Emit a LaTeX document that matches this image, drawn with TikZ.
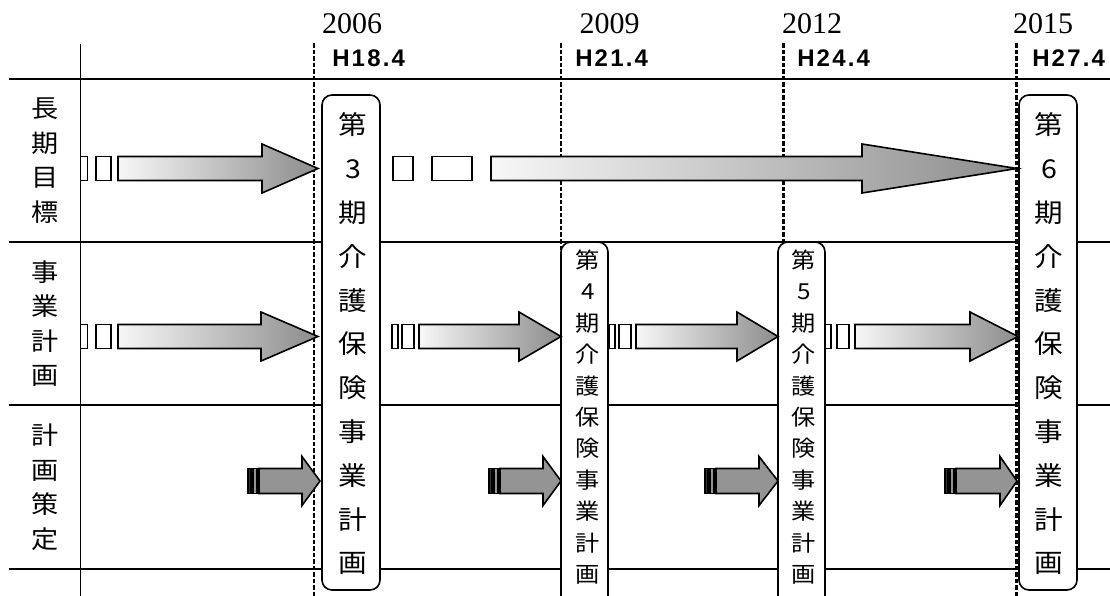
\documentclass[tikz,border=0pt]{standalone}
\usepackage{fontspec}
\newfontfamily\jpfont[FakeStretch=1.1]{Noto Sans CJK JP}
\newfontfamily\hfont[LetterSpace=9]{Liberation Sans}
\newfontfamily\yfont{Liberation Serif}
\tikzstyle{grid}=[draw=black, line width=1.4pt]
\tikzstyle{yearline}=[draw=black, line width=2.1pt, dash pattern=on 3.4pt off 1.5pt]
\tikzstyle{planbox}=[draw=black, fill=white, line width=1.2pt, rounded corners=7.5pt]
\tikzstyle{bigarrow}=[draw=black, line width=1.2pt, left color=black!3, right color=black!45]
\tikzstyle{tailbox}=[draw=black, line width=1.2pt, fill=white]
\tikzstyle{smallarrow}=[draw=black, line width=1.2pt, fill=black!42]
\tikzstyle{stripe}=[draw=black, line width=1.2pt, fill=black!80]
\tikzstyle{yearlabel}=[font=\yfont\fontsize{22.5}{27}\selectfont]
\tikzstyle{hlabel}=[anchor=west, font=\hfont\bfseries\fontsize{18}{21}\selectfont]
\tikzstyle{rowlabel}=[align=center, font=\jpfont\fontsize{18.5}{25.9}\selectfont]
\tikzstyle{bigtext}=[align=center, font=\jpfont\fontsize{19.5}{32.85}\selectfont]
\tikzstyle{smalltext}=[align=center, font=\jpfont\fontsize{16.5}{23.55}\selectfont]

\begin{document}
\begin{tikzpicture}[x=0.75pt, y=-0.75pt, every node/.style={inner sep=0pt}]
	\useasboundingbox (0,0) rectangle (1110,596);
	\clip (0,0) rectangle (1110,596);
	% grid
	\begin{scope}
		\path [grid] (80.5,44) -- (80.5,596);
		\path [grid] (9,79) -- (1110,79);
		\path [grid] (9,242) -- (1110,242);
		\path [grid] (9,405) -- (1110,405);
		\path [grid] (9,569) -- (1110,569);
	\end{scope}
	\begin{scope}
		\path [yearline] (314,43) -- (314,596);
		\path [yearline] (561,43) -- (561,596);
		\path [yearline] (783.5,43) -- (783.5,596);
		\path [yearline] (1016.5,43) -- (1016.5,596);
	\end{scope}
	% plan boxes
	\begin{scope}
		\path [planbox] (322,95) rectangle (380,590);
		\path [planbox] (1019,95) rectangle (1077,590);
		\path [planbox] (561,242) rectangle (608,615);
		\path [planbox] (778,242) rectangle (825,615);
	\end{scope}
	% long term
	\begin{scope}
		\path [tailbox] (80.5,156.5) rectangle (87.5,180.5);
		\path [tailbox] (96,156.5) rectangle (111,180.5);
		\path [bigarrow] (118,156.5) -- (262,156.5) -- (262,144) -- (318,168.5) -- (262,193) -- (262,180.5) -- (118,180.5) -- cycle;
		\path [tailbox] (393,156.5) rectangle (413,180.5);
		\path [tailbox] (432,156.5) rectangle (472,180.5);
		\path [bigarrow] (491,156.5) -- (862,156.5) -- (862,144) -- (1017,168.5) -- (862,193) -- (862,180.5) -- (491,180.5) -- cycle;
	\end{scope}
	% plan period
	\begin{scope}
		\path [tailbox] (80.5,324.5) rectangle (87.5,348.5);
		\path [tailbox] (96,324.5) rectangle (111,348.5);
		\path [bigarrow] (118,324.5) -- (261,324.5) -- (261,312) -- (318,336.5) -- (261,361) -- (261,348.5) -- (118,348.5) -- cycle;
		\path [tailbox] (392,324.5) rectangle (398,348.5);
		\path [tailbox] (402,324.5) rectangle (414,348.5);
		\path [bigarrow] (419,324.5) -- (519,324.5) -- (519,312) -- (561,336.5) -- (519,361) -- (519,348.5) -- (419,348.5) -- cycle;
		\path [tailbox] (609,324.5) rectangle (615,348.5);
		\path [tailbox] (619,324.5) rectangle (631,348.5);
		\path [bigarrow] (636,324.5) -- (737,324.5) -- (737,312) -- (778,336.5) -- (737,361) -- (737,348.5) -- (636,348.5) -- cycle;
		\path [tailbox] (825,324.5) rectangle (831,348.5);
		\path [tailbox] (837,324.5) rectangle (849,348.5);
		\path [bigarrow] (855,324.5) -- (970,324.5) -- (970,312) -- (1018,336.5) -- (970,361) -- (970,348.5) -- (855,348.5) -- cycle;
	\end{scope}
	% drafting
	\begin{scope}
		\path [stripe] (248,468.5) rectangle (251,493.5);
		\path [smallarrow] (253,468.5) rectangle (257,493.5);
		\path [smallarrow] (259,468.5) -- (302,468.5) -- (302,456.5) -- (320,481) -- (302,505.5) -- (302,493.5) -- (259,493.5) -- cycle;
		\path [stripe] (489,468.5) rectangle (492,493.5);
		\path [smallarrow] (494,468.5) rectangle (498,493.5);
		\path [smallarrow] (500,468.5) -- (543,468.5) -- (543,456.5) -- (561,481) -- (543,505.5) -- (543,493.5) -- (500,493.5) -- cycle;
		\path [stripe] (705,468.5) rectangle (708,493.5);
		\path [smallarrow] (710,468.5) rectangle (714,493.5);
		\path [smallarrow] (716,468.5) -- (759,468.5) -- (759,456.5) -- (778,481) -- (759,505.5) -- (759,493.5) -- (716,493.5) -- cycle;
		\path [stripe] (945,468.5) rectangle (948,493.5);
		\path [smallarrow] (950,468.5) rectangle (954,493.5);
		\path [smallarrow] (956,468.5) -- (1000,468.5) -- (1000,456.5) -- (1017,481) -- (1000,505.5) -- (1000,493.5) -- (956,493.5) -- cycle;
	\end{scope}
	% labels
	\begin{scope}
		\node (y1) at (352,24) [yearlabel] {2006};
		\node (y2) at (609.5,24) [yearlabel] {2009};
		\node (y3) at (812,24) [yearlabel] {2012};
		\node (y4) at (1043,24) [yearlabel] {2015};
		\node (h1) at (332,58) [hlabel] {H18.4};
		\node (h2) at (575,58) [hlabel] {H21.4};
		\node (h3) at (797,58) [hlabel] {H24.4};
		\node (h4) at (1032,58) [hlabel] {H27.4};
		\node (r1) at (45,160.5) [rowlabel] {長\\期\\目\\標};
		\node (r2) at (45,323.5) [rowlabel] {事\\業\\計\\画};
		\node (r3) at (45,487) [rowlabel] {計\\画\\策\\定};
		\node (p3) at (353,344) [bigtext] {第\\3\\期\\介\\護\\保\\険\\事\\業\\計\\画};
		\node (p4) at (588,417) [smalltext] {第\\4\\期\\介\\護\\保\\険\\事\\業\\計\\画};
		\node (p5) at (804,417) [smalltext] {第\\5\\期\\介\\護\\保\\険\\事\\業\\計\\画};
		\node (p6) at (1049,344) [bigtext] {第\\6\\期\\介\\護\\保\\険\\事\\業\\計\\画};
	\end{scope}
\end{tikzpicture}
\end{document}
